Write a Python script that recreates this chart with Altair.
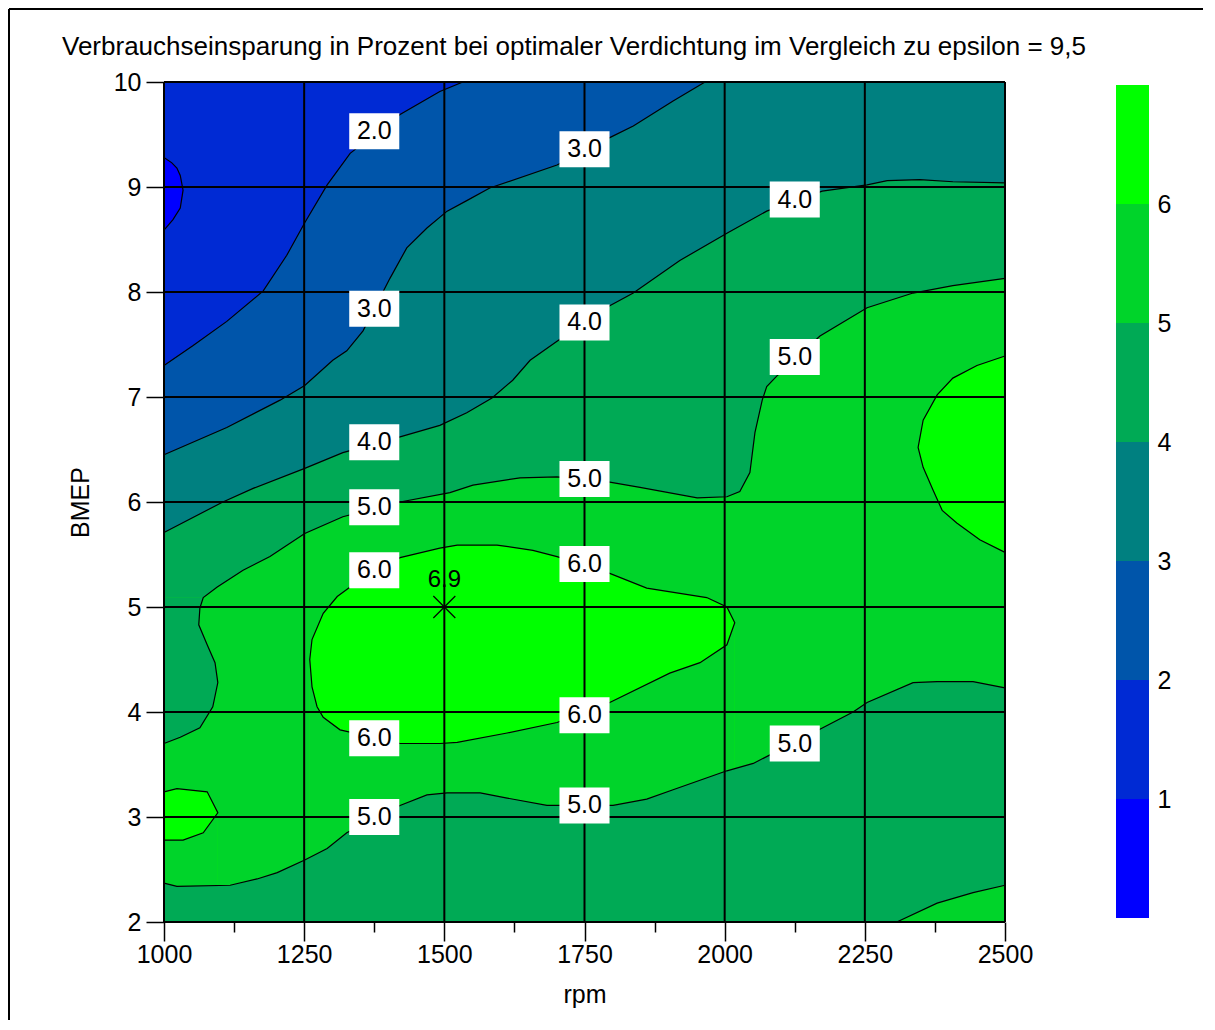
import altair as alt
import pandas as pd

# ---------------- data ----------------
TITLE = "Verbrauchseinsparung in Prozent bei optimaler Verdichtung im Vergleich zu epsilon = 9,5"
X_TITLE = "rpm"
Y_TITLE = "BMEP"
X_MIN, X_MAX = 1000, 2500
Y_MIN, Y_MAX = 2, 10
X_TICKS = [1000, 1250, 1500, 1750, 2000, 2250, 2500]
X_MINOR = [1125, 1375, 1625, 1875, 2125, 2375]
Y_TICKS = [2, 3, 4, 5, 6, 7, 8, 9, 10]
Y_MINOR = [2.5, 3.5, 4.5, 5.5, 6.5, 7.5, 8.5, 9.5]
LEVELS = [1, 2, 3, 4, 5, 6]
BAND_COLORS = ["#0000FF", "#002AD4", "#0055AA", "#008080", "#00AA55", "#00D42A", "#00FF00"]

# contour lines (rpm, BMEP)
C1_SPOT = [(1000, 9.28), (1014, 9.23), (1023, 9.18), (1029, 9.11), (1034, 8.97),
           (1029, 8.80), (1016, 8.69), (1000, 8.59)]
C2 = [(1000, 7.30), (1052, 7.49), (1112, 7.72), (1177, 8.01), (1219, 8.35), (1251, 8.66),
      (1291, 9.02), (1332, 9.32), (1421, 9.69), (1492, 9.91), (1533, 10.0)]
C3 = [(1000, 6.45), (1112, 6.71), (1207, 6.97), (1251, 7.11), (1301, 7.35), (1326, 7.44),
      (1355, 7.63), (1403, 8.13), (1433, 8.42), (1469, 8.61), (1505, 8.77), (1540, 8.87),
      (1581, 8.99), (1701, 9.21), (1795, 9.47), (1837, 9.58), (1908, 9.82), (1965, 10.0)]
C4 = [(1000, 5.71), (1105, 6.00), (1159, 6.13), (1251, 6.32), (1319, 6.47), (1421, 6.62),
      (1492, 6.73), (1540, 6.85), (1585, 6.99), (1622, 7.16), (1653, 7.35), (1701, 7.53),
      (1795, 7.87), (1837, 7.99), (1920, 8.30), (2004, 8.56), (2075, 8.77), (2174, 8.96),
      (2254, 9.02), (2290, 9.06), (2348, 9.07), (2407, 9.05), (2500, 9.04)]
C5_BAY = [(1000, 3.70), (1029, 3.76), (1064, 3.85), (1087, 4.05), (1096, 4.28), (1091, 4.47),
          (1077, 4.64), (1062, 4.83), (1064, 4.99), (1070, 5.09)]
C5_REST = [(1095, 5.19), (1141, 5.35), (1189, 5.48), (1251, 5.70), (1319, 5.86), (1421, 6.00),
           (1510, 6.09), (1551, 6.16), (1635, 6.23), (1701, 6.24), (1795, 6.19), (1849, 6.14),
           (1951, 6.04), (2004, 6.05), (2027, 6.10), (2045, 6.28), (2054, 6.66), (2067, 6.97),
           (2075, 7.10), (2095, 7.21), (2170, 7.58), (2254, 7.85), (2336, 7.99), (2407, 8.06),
           (2500, 8.13)]
C5_LOWER = [(1000, 2.37), (1023, 2.34), (1118, 2.35), (1166, 2.41), (1202, 2.47), (1251, 2.59),
            (1291, 2.70), (1326, 2.85), (1421, 3.11), (1469, 3.21), (1505, 3.23), (1564, 3.23),
            (1612, 3.18), (1683, 3.11), (1801, 3.11), (1861, 3.17), (1908, 3.26), (2004, 3.44),
            (2051, 3.51), (2175, 3.85), (2229, 4.00), (2254, 4.09), (2336, 4.28), (2379, 4.29),
            (2443, 4.29), (2500, 4.23)]
C5_CORNER = [(2307, 2.00), (2379, 2.18), (2443, 2.28), (2500, 2.35)]
C6_LEFT_TOP = [(1000, 3.24), (1023, 3.27), (1077, 3.24), (1096, 3.04)]
C6_LEFT_BOTTOM = [(1000, 2.78), (1034, 2.78), (1070, 2.85), (1096, 3.04)]
C6_MID_TOP = [(1260, 4.50), (1264, 4.69), (1284, 4.94), (1309, 5.10), (1332, 5.19), (1421, 5.47),
              (1492, 5.56), (1523, 5.59), (1594, 5.59), (1658, 5.54), (1701, 5.48), (1795, 5.32),
              (1861, 5.18), (1968, 5.09), (2004, 5.00), (2018, 4.85)]
C6_MID_BOTTOM = [(1260, 4.50), (1264, 4.24), (1273, 4.05), (1284, 3.95), (1314, 3.83),
                 (1421, 3.70), (1492, 3.70), (1523, 3.71), (1612, 3.80), (1701, 3.90),
                 (1795, 4.09), (1902, 4.37), (1956, 4.47), (2004, 4.64), (2018, 4.85)]
C6_RIGHT = [(2500, 7.39), (2450, 7.30), (2407, 7.18), (2379, 7.02), (2354, 6.78), (2345, 6.52),
            (2354, 6.33), (2372, 6.11), (2388, 5.92), (2414, 5.80), (2455, 5.64), (2500, 5.52)]

LABEL_TEXT = ["2.0", "3.0", "4.0", "3.0", "4.0", "5.0", "4.0", "5.0",
              "5.0", "6.0", "6.0", "6.0", "6.0", "5.0", "5.0", "5.0"]
LABEL_RPM = [1375, 1750, 2125, 1375, 1750, 2125, 1375, 1375,
             1750, 1375, 1750, 1375, 1750, 1375, 1750, 2125]
LABEL_BMEP = [9.53, 9.36, 8.88, 7.84, 7.71, 7.38, 6.57, 5.95,
              6.22, 5.35, 5.41, 3.75, 3.97, 3.00, 3.11, 3.70]
PEAK_RPM = [1500]
PEAK_BMEP = [5.0]
PEAK_TEXT = ["6.9"]

FONT = "Liberation Sans"

# ---------------- encodings ----------------
xs = alt.Scale(domain=[X_MIN, X_MAX], nice=False, zero=False)
ys = alt.Scale(domain=[Y_MIN, Y_MAX], nice=False, zero=False)
x_axis = alt.Axis(
    values=sorted(X_TICKS + X_MINOR), title=X_TITLE, format="d", labelFlush=False,
    labelExpr="indexof(%s, datum.value) >= 0 ? datum.label : ''" % X_TICKS,
    tickSize={"condition": {"test": "indexof(%s, datum.value) >= 0" % X_MINOR, "value": 10},
              "value": 19},
    labelPadding=1, titlePadding=15,
)
y_axis = alt.Axis(
    values=sorted(Y_TICKS + Y_MINOR), title=Y_TITLE, format="d", labelFlush=False,
    labelExpr="indexof(%s, datum.value) >= 0 ? datum.label : ''" % Y_TICKS,
    tickSize={"condition": {"test": "indexof(%s, datum.value) >= 0" % Y_MINOR, "value": 10},
              "value": 18},
    labelPadding=5, titlePadding=20,
)


def X(f="x"):
    return alt.X(f"{f}:Q", scale=xs, axis=x_axis)


def Y(f="y"):
    return alt.Y(f"{f}:Q", scale=ys, axis=y_axis)


def pts(p):
    return pd.DataFrame(p, columns=["x", "y"])


def fill_below(points, color):
    return alt.Chart(pts(points)).mark_area(color=color, opacity=1, interpolate="linear").encode(
        x=X(), y=Y(), y2=alt.datum(Y_MIN))


def fill_side(points, x_edge, color):
    return alt.Chart(pts(points)).mark_area(
        color=color, opacity=1, orient="horizontal", interpolate="linear").encode(
        y=Y(), x=X(), x2=alt.datum(x_edge))


base = alt.Chart(pd.DataFrame({"x": [X_MIN], "x2": [X_MAX], "y": [Y_MIN], "y2": [Y_MAX]})).mark_rect(
    color=BAND_COLORS[1], opacity=1).encode(x=X(), x2="x2:Q", y=Y(), y2="y2:Q")

fills = [
    base,
    fill_side(C1_SPOT, X_MIN, BAND_COLORS[0]),
    fill_below(C2 + [(X_MAX, Y_MAX)], BAND_COLORS[2]),
    fill_below(C3 + [(X_MAX, Y_MAX)], BAND_COLORS[3]),
    fill_below(C4, BAND_COLORS[4]),
    fill_below([(X_MIN, C5_BAY[-1][1]), C5_BAY[-1]] + C5_REST, BAND_COLORS[5]),
    fill_below(C6_MID_TOP, BAND_COLORS[6]),
    fill_below(C6_MID_BOTTOM, BAND_COLORS[5]),
    fill_below(C6_LEFT_TOP, BAND_COLORS[6]),
    fill_below(C6_LEFT_BOTTOM, BAND_COLORS[5]),
    fill_below(C5_LOWER, BAND_COLORS[4]),
    fill_side(C5_BAY, X_MIN, BAND_COLORS[4]),
    fill_below(C5_CORNER, BAND_COLORS[5]),
    fill_side(C6_RIGHT, X_MAX, BAND_COLORS[6]),
]

LINES = {
    "c1": C1_SPOT,
    "c2": C2,
    "c3": C3,
    "c4": C4,
    "c5u": C5_BAY + C5_REST,
    "c5l": C5_LOWER,
    "c5c": C5_CORNER,
    "c6l": C6_LEFT_TOP + C6_LEFT_BOTTOM[:-1][::-1],
    "c6m": C6_MID_TOP + C6_MID_BOTTOM[:-1][::-1],
    "c6r": C6_RIGHT,
}
rows = []
for k, p in LINES.items():
    for i, (a, b) in enumerate(p):
        rows.append({"id": k, "ord": i, "x": a, "y": b})
lines = alt.Chart(pd.DataFrame(rows)).mark_line(color="black", strokeWidth=1.2, interpolate="linear").encode(
    x=X(), y=Y(), detail="id:N", order="ord:Q")

vgrid = alt.Chart(pd.DataFrame({"x": X_TICKS})).mark_rule(color="black", strokeWidth=2).encode(x=X())
hgrid = alt.Chart(pd.DataFrame({"y": Y_TICKS})).mark_rule(color="black", strokeWidth=2).encode(y=Y())

lab_df = pd.DataFrame({"x": LABEL_RPM, "y": LABEL_BMEP, "t": LABEL_TEXT})
BOX = "M-1.39,-1L1.39,-1L1.39,1L-1.39,1Z"
boxes = alt.Chart(lab_df).mark_point(shape=BOX, size=1296, filled=True, color="white",
                                     opacity=1, strokeWidth=0).encode(x=X(), y=Y())
texts = alt.Chart(lab_df).mark_text(fontSize=25, color="black", baseline="middle",
                                    align="center").encode(x=X(), y=Y(), text="t:N")

peak_df = pd.DataFrame({"x": PEAK_RPM, "y": PEAK_BMEP, "t": PEAK_TEXT})
CROSS = "M-1,-1L1,1M-1,1L1,-1"
cross = alt.Chart(peak_df).mark_point(shape=CROSS, size=484, filled=False, color="black",
                                      strokeWidth=1.2, opacity=1).encode(x=X(), y=Y())
peak_text = alt.Chart(peak_df).mark_text(fontSize=24, color="black", dy=-27, baseline="middle",
                                         align="center").encode(x=X(), y=Y(), text="t:N")

main = alt.layer(*fills, lines, vgrid, hgrid, boxes, texts, cross, peak_text).properties(
    width=841, height=840,
    title=alt.TitleParams(TITLE, anchor="start", frame="group", dx=-102, offset=-16,
                          fontSize=26, fontWeight="normal", color="black", baseline="bottom"),
)

# ---------------- colour bar ----------------
CB_W, CB_H = 33, 836
cb_df = pd.DataFrame({"lo": [0] + LEVELS, "hi": LEVELS + [len(LEVELS) + 1], "c": BAND_COLORS})
cb = alt.Chart(cb_df).mark_rect(opacity=1).encode(
    y=alt.Y("lo:Q", scale=alt.Scale(domain=[0, len(LEVELS) + 1], nice=False, zero=False,
                                    range=[CB_H, 3]),
            axis=alt.Axis(orient="right", values=LEVELS, ticks=False, tickSize=0, domain=False,
                          grid=False, labelPadding=8, title=None, format="d")),
    y2="hi:Q",
    color=alt.Color("c:N", scale=None, legend=None),
)
one = pd.DataFrame({"a": [0]})
frame_top = alt.Chart(one).mark_rule(color="black", strokeWidth=2).encode(
    x=alt.value(-1107), x2=alt.value(87), y=alt.value(-73))
frame_left = alt.Chart(one).mark_rule(color="black", strokeWidth=2).encode(
    x=alt.value(-1107), y=alt.value(-73), y2=alt.value(938))
colorbar = alt.layer(cb, frame_top, frame_left).properties(width=CB_W, height=CB_H)

chart = alt.hconcat(main, colorbar, spacing=111, bounds="flush").properties(
    padding=0
).configure(font=FONT).configure_view(stroke=None).configure_axis(
    labelFont=FONT, titleFont=FONT, labelFontSize=25, titleFontSize=25,
    titleFontWeight="normal", labelColor="black", titleColor="black",
    tickColor="black", tickWidth=1.5, domain=False, grid=False,
)

chart.save("out.html", embed_options={"renderer": "svg", "actions": False})
